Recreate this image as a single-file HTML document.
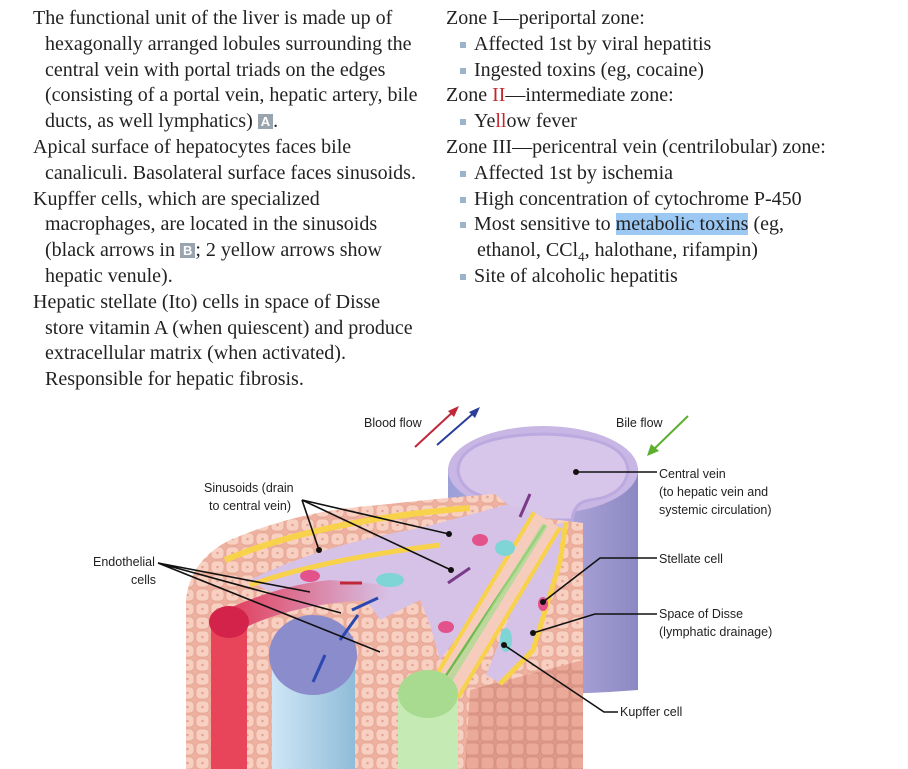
<!DOCTYPE html>
<html><head><meta charset="utf-8"><style>
body{margin:0;width:908px;height:769px;background:#fff;overflow:hidden;position:relative;font-family:"Liberation Serif",serif;color:#222}
.t{position:absolute;font-size:20px;line-height:25.8px;white-space:nowrap}
.i{padding-left:12px}
.b{position:relative;padding-left:16px}
.b:before{content:"";position:absolute;left:2px;top:10px;width:6px;height:6px;background:#9bb4cc}
.bx{display:inline-block;background:#9aa4ae;color:#fff;font-family:"Liberation Sans",sans-serif;font-weight:bold;font-size:13px;line-height:15px;padding:0 3px;vertical-align:1px}
.hl{background:#9cc8f4}
.red{color:#c0282e}
sub{font-size:13px;line-height:0}
svg text{font-family:"Liberation Sans",sans-serif;font-size:12.5px;fill:#222}
</style></head><body>
<div class="t" style="left:33px;top:6px">
<div>The functional unit of the liver is made up of</div>
<div class="i">hexagonally arranged lobules surrounding the</div>
<div class="i">central vein with portal triads on the edges</div>
<div class="i">(consisting of a portal vein, hepatic artery, bile</div>
<div class="i">ducts, as well lymphatics) <span class="bx">A</span>.</div>
<div>Apical surface of hepatocytes faces bile</div>
<div class="i">canaliculi. Basolateral surface faces sinusoids.</div>
<div>Kupffer cells, which are specialized</div>
<div class="i">macrophages, are located in the sinusoids</div>
<div class="i">(black arrows in <span class="bx">B</span>; 2 yellow arrows show</div>
<div class="i">hepatic venule).</div>
<div>Hepatic stellate (Ito) cells in space of Disse</div>
<div class="i">store vitamin A (when quiescent) and produce</div>
<div class="i">extracellular matrix (when activated).</div>
<div class="i">Responsible for hepatic fibrosis.</div>
</div>
<div class="t" style="left:446px;top:6px">
<div>Zone I—periportal zone:</div>
<div class="b" style="margin-left:12px">Affected 1st by viral hepatitis</div>
<div class="b" style="margin-left:12px">Ingested toxins (eg, cocaine)</div>
<div>Zone <span class="red">II</span>—intermediate zone:</div>
<div class="b" style="margin-left:12px">Ye<span class="red">ll</span>ow fever</div>
<div>Zone III—pericentral vein (centrilobular) zone:</div>
<div class="b" style="margin-left:12px">Affected 1st by ischemia</div>
<div class="b" style="margin-left:12px">High concentration of cytochrome P-450</div>
<div class="b" style="margin-left:12px">Most sensitive to <span class="hl">metabolic toxins</span> (eg,</div>
<div style="padding-left:31px">ethanol, CCl<sub>4</sub>, halothane, rifampin)</div>
<div class="b" style="margin-left:12px">Site of alcoholic hepatitis</div>
</div>
<svg width="908" height="769" style="position:absolute;left:0;top:0">
<defs>
<pattern id="cells" width="15" height="14" patternUnits="userSpaceOnUse">
<rect width="15" height="14" fill="#eeb09f"/>
<rect x="1" y="1" width="13" height="12" rx="4" fill="#f8d0c2" stroke="#e5a493" stroke-width="0.8"/>
<circle cx="7.5" cy="7" r="1.3" fill="#e6a494"/>
</pattern>
<pattern id="cells2" width="15" height="14" patternUnits="userSpaceOnUse">
<rect width="15" height="14" fill="#dc9888"/>
<rect x="1" y="1" width="13" height="12" rx="3" fill="#eba999" stroke="#d48c7c" stroke-width="0.8"/>
</pattern>
<linearGradient id="cyl" x1="0" x2="1"><stop offset="0" stop-color="#9c9fd8"/><stop offset="0.5" stop-color="#b6aee0"/><stop offset="1" stop-color="#8c88c2"/></linearGradient>
<linearGradient id="blue" x1="0" x2="1"><stop offset="0" stop-color="#cfe6f6"/><stop offset="1" stop-color="#8fbcd8"/></linearGradient>
<linearGradient id="redflow" x1="0" x2="1"><stop offset="0" stop-color="#e23a58"/><stop offset="1" stop-color="#d6c2e6"/></linearGradient>
</defs>
<!-- central vein -->
<path d="M448,468 L448,690 Q540,698 638,690 L638,468 Z" fill="url(#cyl)"/>
<ellipse cx="543" cy="470" rx="95" ry="44" fill="#c8b6e4"/>
<path d="M458,470 Q460,436 543,434 Q625,436 628,470 Q625,496 590,500 Q574,502 572,520 L512,520 Q510,500 490,498 Q460,492 458,470 Z" fill="#d8c6ea" stroke="#bca9e0" stroke-width="3"/>
<!-- pink block -->
<path d="M186,600 Q190,560 230,540 Q300,510 380,505 Q440,498 495,494 L520,515 L583,523 L583,769 L186,769 Z" fill="url(#cells)"/>
<path d="M470,690 L583,660 L583,769 L465,769 Z" fill="url(#cells2)"/>
<!-- sinusoid interior -->
<path d="M250,580 Q320,545 420,528 Q470,515 505,505 Q520,505 545,520 L520,550 L470,620 L440,660 L430,625 L420,600 Q400,610 380,620 Q360,585 330,590 L300,600 Q270,595 250,580 Z" fill="#d6c2e6"/>
<path d="M225,560 Q320,520 470,508" stroke="#f7d24a" stroke-width="6" fill="none"/>
<path d="M250,585 Q320,560 440,545" stroke="#f7d24a" stroke-width="5" fill="none"/>
<!-- right lavender pocket -->
<path d="M552,525 L568,522 L562,560 L535,650 L500,683 L486,675 L520,590 Z" fill="#d6c2e6"/>
<path d="M566,522 L560,562 L533,650 L500,684" stroke="#f7d24a" stroke-width="5" fill="none"/>
<path d="M547,520 L445,690" stroke="#f7d24a" stroke-width="34" fill="none"/>
<path d="M547,520 L445,690" stroke="#f6cdbd" stroke-width="26" fill="none"/>
<path d="M545,525 L420,715" stroke="#6cbb4c" stroke-width="2.5" fill="none"/>
<path d="M545,525 L440,695" stroke="#a6dc8f" stroke-width="6" fill="none" opacity="0.7"/>
<!-- red channel -->
<path d="M225,610 Q280,585 330,580 L390,585 L390,600 Q300,600 240,630 Z" fill="url(#redflow)"/>
<!-- red tube -->
<rect x="211" y="620" width="36" height="149" fill="#e9455a"/>
<ellipse cx="229" cy="622" rx="20" ry="16" fill="#d3234a"/>
<!-- blue tube -->
<rect x="272" y="655" width="83" height="114" fill="url(#blue)"/>
<ellipse cx="313" cy="655" rx="44" ry="40" fill="#8b8ccc"/>
<!-- green tube -->
<rect x="398" y="692" width="60" height="77" fill="#c6eab4"/>
<ellipse cx="428" cy="694" rx="30" ry="24" fill="#a8db90"/>
<!-- small cells -->
<ellipse cx="310" cy="576" rx="10" ry="6" fill="#e4528c"/>
<ellipse cx="480" cy="540" rx="8" ry="6" fill="#e4528c"/>
<ellipse cx="446" cy="627" rx="8" ry="6" fill="#e4528c"/>
<ellipse cx="543" cy="604" rx="5" ry="7" fill="#e4528c"/>
<ellipse cx="390" cy="580" rx="14" ry="7" fill="#7fd4d6"/>
<ellipse cx="506" cy="640" rx="6" ry="12" fill="#7fd4d6"/>
<ellipse cx="505" cy="548" rx="10" ry="8" fill="#7fd4d6"/>
<!-- internal arrows -->
<g stroke-width="3" fill="none">
<path d="M340,583 L362,583" stroke="#c0283a"/>
<path d="M352,610 L378,598" stroke="#2a48b0"/>
<path d="M340,640 L358,615" stroke="#2a48b0"/>
<path d="M313,682 L325,655" stroke="#2a48b0"/>
<path d="M448,583 L470,568" stroke="#7a3a8a"/>
<path d="M520,517 L530,494" stroke="#7a3a8a"/>
</g>
<!-- flow arrows -->
<line x1="415" y1="447" x2="455" y2="410" stroke="#c0283a" stroke-width="2"/><polygon points="459,406 448,411 454,417" fill="#c0283a"/>
<line x1="437" y1="445" x2="476" y2="411" stroke="#2a3e9a" stroke-width="2"/><polygon points="480,407 469,412 475,418" fill="#2a3e9a"/>
<line x1="688" y1="416" x2="651" y2="452" stroke="#5cb030" stroke-width="2"/><polygon points="647,456 651,444 659,451" fill="#5cb030"/>
<text x="364" y="427">Blood flow</text>
<text x="616" y="427">Bile flow</text>
<text x="204" y="492">Sinusoids (drain</text>
<text x="209" y="510">to central vein)</text>
<text x="93" y="566">Endothelial</text>
<text x="131" y="584">cells</text>
<text x="659" y="478">Central vein</text>
<text x="659" y="496">(to hepatic vein and</text>
<text x="659" y="514">systemic circulation)</text>
<text x="659" y="563">Stellate cell</text>
<text x="659" y="618">Space of Disse</text>
<text x="659" y="636">(lymphatic drainage)</text>
<text x="620" y="716">Kupffer cell</text>
<g stroke="#111" stroke-width="1.6" fill="none">
<path d="M302,500 L319,550 M302,500 L449,534 M302,500 L451,570"/>
<path d="M158,563 L310,592 M158,563 L341,613 M158,563 L380,652"/>
<path d="M657,472 L576,472"/>
<path d="M657,558 L600,558 L543,602"/>
<path d="M657,614 L595,614 L533,633"/>
<path d="M618,712 L604,712 L504,645"/>
</g>
<g fill="#111"><circle cx="319" cy="550" r="3"/><circle cx="449" cy="534" r="3"/><circle cx="451" cy="570" r="3"/><circle cx="576" cy="472" r="3"/><circle cx="543" cy="602" r="3"/><circle cx="533" cy="633" r="3"/><circle cx="504" cy="645" r="3"/></g>
</svg>
</body></html>
